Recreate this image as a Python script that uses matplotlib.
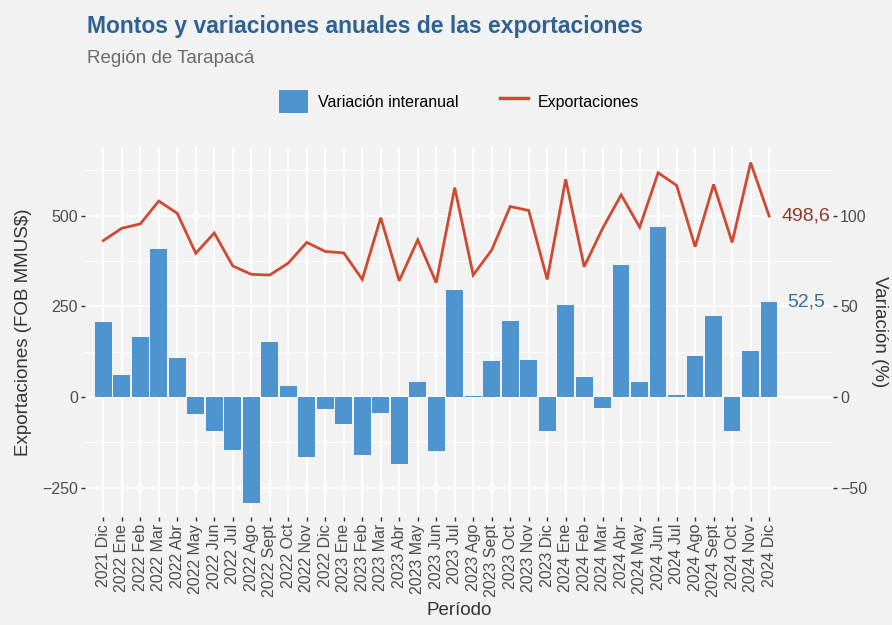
import matplotlib
matplotlib.use("Agg")
import matplotlib.pyplot as plt
from matplotlib.patches import Patch
from matplotlib.lines import Line2D
from matplotlib.ticker import MultipleLocator

plt.rcParams['font.family'] = ['Liberation Sans', 'DejaVu Sans']

periodos = ['2021 Dic',
            '2022 Ene', '2022 Feb', '2022 Mar', '2022 Abr', '2022 May', '2022 Jun',
            '2022 Jul', '2022 Ago', '2022 Sept', '2022 Oct', '2022 Nov', '2022 Dic',
            '2023 Ene', '2023 Feb', '2023 Mar', '2023 Abr', '2023 May', '2023 Jun',
            '2023 Jul', '2023 Ago', '2023 Sept', '2023 Oct', '2023 Nov', '2023 Dic',
            '2024 Ene', '2024 Feb', '2024 Mar', '2024 Abr', '2024 May', '2024 Jun',
            '2024 Jul', '2024 Ago', '2024 Sept', '2024 Oct', '2024 Nov', '2024 Dic']

# exportaciones, millones de USD FOB
exportaciones = [431, 465, 477, 540, 506, 396, 452, 361, 338, 336, 369, 426, 401,
                 397, 324, 494, 320, 433, 315, 577, 336, 405, 525, 514, 324,
                 600, 359, 465, 557, 468, 618, 583, 414, 586, 426, 646, 498.6]

# variacion interanual, %
variacion = [41.4, 12.1, 33.1, 81.6, 21.5, -9.4, -18.6, -29.0, -58.3, 30.3, 6.1, -32.9, -6.4,
             -14.7, -31.8, -8.6, -36.8, 8.3, -29.6, 59.0, 0.4, 19.9, 41.9, 20.4, -18.6,
             50.7, 11.0, -5.9, 72.8, 8.3, 93.7, 1.1, 22.6, 44.7, -18.6, 25.4, 52.5]

bg = '#F2F2F2'
azul = '#4E94CE'
rojo = '#D04A33'
gris_txt = '#4D4D4D'

fig = plt.figure(figsize=(8.92, 6.25), dpi=100, facecolor=bg)
ax1 = fig.add_axes([0.0953, 0.1728, 0.934 - 0.0953, 0.7648 - 0.1728])
ax1.set_facecolor(bg)
ax2 = ax1.twinx()

x = list(range(len(periodos)))
ylim1 = (-331, 689)
ax1.set_ylim(ylim1)
ax2.set_ylim(ylim1[0] / 5, ylim1[1] / 5)
ax1.set_xlim(-0.99, 39.46)

ax2.bar(x, variacion, width=0.9, color=azul, zorder=2)
ax1.plot(x, exportaciones, color=rojo, lw=2.0, zorder=3, solid_joinstyle='miter')

ax1.text(38, exportaciones[-1], '498,6', ha='center', va='center',
         color='#8E3A2B', fontsize=14)
ax2.text(38, variacion[-1], '52,5', ha='center', va='center',
         color='#3B6E9C', fontsize=14)

ax1.set_yticks([-250, 0, 250, 500])
ax1.yaxis.set_minor_locator(MultipleLocator(125))
ax2.set_yticks([-50, 0, 50, 100])
ax1.set_xticks(x)
ax1.set_xticklabels(periodos, rotation=90)

ax1.grid(True, which='major', axis='both', color='white', lw=1.4, zorder=0)
ax1.grid(True, which='minor', axis='y', color='white', lw=0.7, zorder=0)
ax1.set_axisbelow(True)

for ax in (ax1, ax2):
    for s in ax.spines.values():
        s.set_visible(False)
    ax.tick_params(which='major', length=3, width=1, color='#333333',
                   labelcolor=gris_txt, labelsize=11.5, pad=2)
    ax.tick_params(which='minor', length=0)

ax1.set_ylabel('Exportaciones (FOB MMUS$)', fontsize=13.5, color='#333333', labelpad=7)
ax2.set_ylabel('Variación (%)', fontsize=13.5, color='#333333', rotation=270, labelpad=15)
ax1.set_xlabel('Período', fontsize=13.5, color='#333333', labelpad=4)

fig.text(0.0975, 0.947, 'Montos y variaciones anuales de las exportaciones',
         fontsize=16.5, fontweight='bold', color='#2F6290', va='baseline')
fig.text(0.0975, 0.899, 'Región de Tarapacá', fontsize=13.5, color='#6B6B6B', va='baseline')

handles = [Patch(facecolor=azul, edgecolor='none'), Line2D([0], [0], color=rojo, lw=2.5)]
fig.legend(handles, ['Variación interanual', 'Exportaciones'], ncol=2,
           loc='center', bbox_to_anchor=(0.515, 0.8376), frameon=False,
           fontsize=11.5, handlelength=1.8, handleheight=1.8,
           handletextpad=0.6, columnspacing=2.6)

fig.savefig('out.png', dpi=100, facecolor=bg)
